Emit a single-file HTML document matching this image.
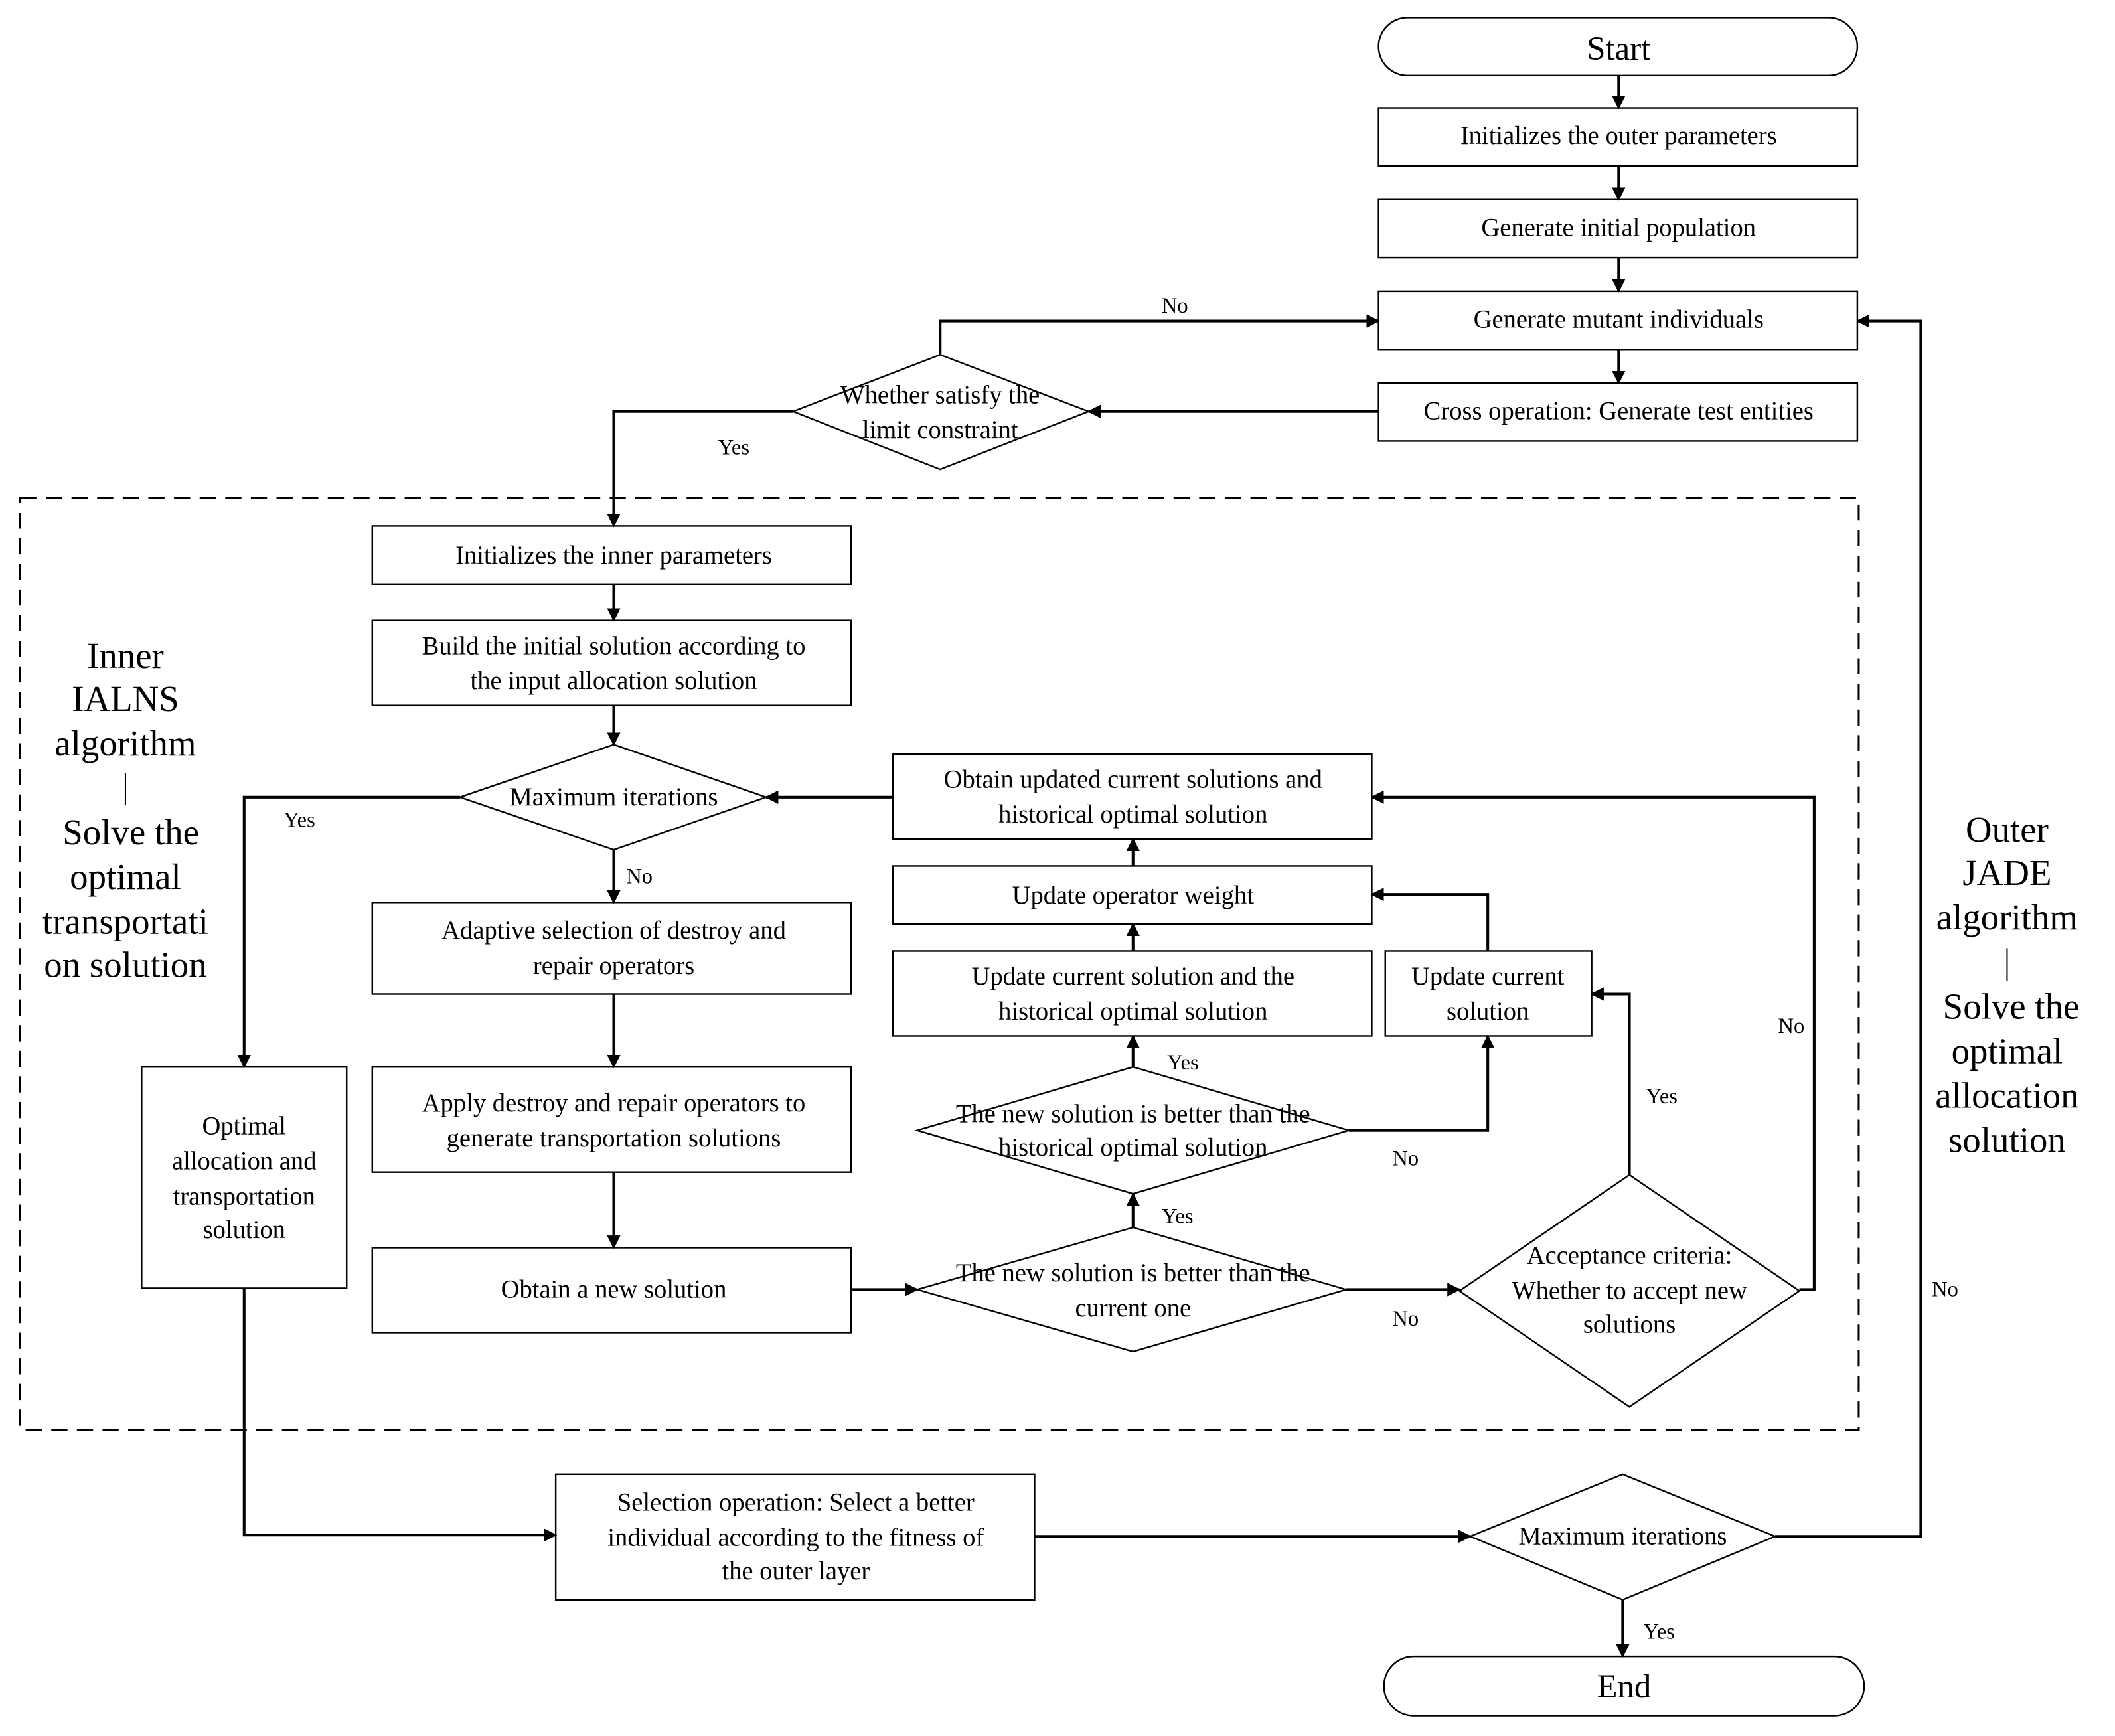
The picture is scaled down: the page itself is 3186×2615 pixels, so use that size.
<!DOCTYPE html>
<html><head><meta charset="utf-8"><style>html,body{margin:0;padding:0;background:#fff}svg{display:block}</style></head>
<body>
<svg width="3186" height="2615" viewBox="0 0 1568 1287" preserveAspectRatio="none" xmlns="http://www.w3.org/2000/svg" font-family="Liberation Serif, serif">
<defs><marker id="a" markerWidth="10" markerHeight="10" refX="9" refY="5" orient="auto" markerUnits="userSpaceOnUse"><path d="M0,0 L10,5 L0,10 z" fill="#000"/></marker></defs>
<rect width="1568" height="1287" fill="#fff"/>
<g fill="#fff" stroke="#000" stroke-width="1.2">
<rect x="1022" y="13" width="355" height="43" rx="21.5"/>
<rect x="1022" y="80" width="355" height="43"/>
<rect x="1022" y="148" width="355" height="43"/>
<rect x="1022" y="216" width="355" height="43"/>
<rect x="1022" y="284" width="355" height="43"/>
<polygon points="588,305 697,263 807,305 697,348"/>
<rect x="276" y="390" width="355" height="43"/>
<rect x="276" y="460" width="355" height="63"/>
<polygon points="341,591 455,552 568,591 455,630"/>
<rect x="276" y="669" width="355" height="68"/>
<rect x="276" y="791" width="355" height="78"/>
<rect x="276" y="925" width="355" height="63"/>
<rect x="105" y="791" width="152" height="164"/>
<polygon points="680,956 840,910 998,956 840,1002"/>
<polygon points="680,838 840,791 1000,838 840,885"/>
<rect x="662" y="705" width="355" height="63"/>
<rect x="662" y="642" width="355" height="43"/>
<rect x="662" y="559" width="355" height="63"/>
<rect x="1027" y="705" width="153" height="63"/>
<polygon points="1082,957 1208,871 1334,957 1208,1043"/>
<rect x="412" y="1093" width="355" height="93"/>
<polygon points="1090,1139 1203,1093 1316,1139 1203,1186"/>
<rect x="1026" y="1228" width="356" height="44" rx="22"/>
</g>
<rect x="15" y="369" width="1363" height="691" fill="none" stroke="#000" stroke-width="1.5" stroke-dasharray="12,7"/>
<g fill="none" stroke="#000" stroke-width="2" marker-end="url(#a)">
<path d="M1200,56 V80"/><path d="M1200,123 V148"/><path d="M1200,191 V216"/><path d="M1200,259 V284"/>
<path d="M1022,305 H807"/>
<path d="M697,263 V238 H1022"/>
<path d="M588,305 H455 V390"/>
<path d="M455,433 V460"/><path d="M455,523 V552"/>
<path d="M341,591 H181 V791"/>
<path d="M455,630 V669"/><path d="M455,737 V791"/><path d="M455,869 V925"/>
<path d="M631,956 H680"/>
<path d="M840,910 V885"/><path d="M840,791 V768"/><path d="M840,705 V685"/><path d="M840,642 V622"/>
<path d="M662,591 H568"/>
<path d="M1000,838 H1103 V768"/>
<path d="M1103,705 V663 H1017"/>
<path d="M998,956 H1082"/>
<path d="M1208,871 V737 H1180"/>
<path d="M1334,956 H1345 V591 H1017"/>
<path d="M181,955 V1138 H412"/>
<path d="M767,1139 H1090"/>
<path d="M1316,1139 H1424 V238 H1377"/>
<path d="M1203,1186 V1228"/>
</g>
<g font-size="19" text-anchor="middle" dominant-baseline="central">
<text x="1200" y="36" font-size="25">Start</text>
<text x="1200" y="101">Initializes the outer parameters</text>
<text x="1200" y="169">Generate initial population</text>
<text x="1200" y="237">Generate mutant individuals</text>
<text x="1200" y="305">Cross operation: Generate test entities</text>
<text x="697" y="293">Whether satisfy the</text><text x="697" y="319">limit constraint</text>
<text x="455" y="412">Initializes the inner parameters</text>
<text x="455" y="479">Build the initial solution according to</text><text x="455" y="505">the input allocation solution</text>
<text x="455" y="591">Maximum iterations</text>
<text x="455" y="690">Adaptive selection of destroy  and</text><text x="455" y="716">repair operators</text>
<text x="455" y="818">Apply destroy and repair operators to</text><text x="455" y="844">generate  transportation solutions</text>
<text x="455" y="956">Obtain a new solution</text>
<text x="181" y="835">Optimal</text><text x="181" y="861">allocation and</text><text x="181" y="887">transportation</text><text x="181" y="912">solution</text>
<text x="840" y="944">The new solution is better than the</text><text x="840" y="970">current one</text>
<text x="840" y="826">The new solution is better than the</text><text x="840" y="851">historical optimal solution</text>
<text x="840" y="724">Update current solution and the</text><text x="840" y="750">historical optimal solution</text>
<text x="840" y="664">Update operator weight</text>
<text x="840" y="578">Obtain updated current solutions and</text><text x="840" y="604">historical optimal solution</text>
<text x="1103" y="724">Update current</text><text x="1103" y="750">solution</text>
<text x="1208" y="931">Acceptance criteria:</text><text x="1208" y="957">Whether to accept new</text><text x="1208" y="982">solutions</text>
<text x="590" y="1114">Selection operation: Select a better</text><text x="590" y="1140">individual according to the fitness of</text><text x="590" y="1165">the outer layer</text>
<text x="1203" y="1139">Maximum iterations</text>
<text x="1204" y="1250" font-size="25">End</text>
</g>
<g font-size="16" text-anchor="middle" dominant-baseline="central">
<text x="871" y="227">No</text><text x="544" y="332">Yes</text>
<text x="222" y="608">Yes</text><text x="474" y="650">No</text>
<text x="873" y="902">Yes</text><text x="877" y="788">Yes</text>
<text x="1042" y="859">No</text><text x="1042" y="978">No</text>
<text x="1232" y="813">Yes</text><text x="1328" y="761">No</text>
<text x="1442" y="956">No</text><text x="1230" y="1210">Yes</text>
</g>
<g font-size="27" text-anchor="middle" dominant-baseline="central">
<text x="93" y="486">Inner</text><text x="93" y="518">IALNS</text><text x="93" y="551">algorithm</text>
<text x="97" y="617">Solve the</text><text x="93" y="650">optimal</text><text x="93" y="683">transportati</text><text x="93" y="715">on solution</text>
<text x="1488" y="615">Outer</text><text x="1488" y="647">JADE</text><text x="1488" y="680">algorithm</text>
<text x="1491" y="746">Solve the</text><text x="1488" y="779">optimal</text><text x="1488" y="812">allocation</text><text x="1488" y="845">solution</text>
</g>
<path d="M93,573 V597 M1488,703 V727" stroke="#000" stroke-width="1"/>
</svg>
</body></html>
